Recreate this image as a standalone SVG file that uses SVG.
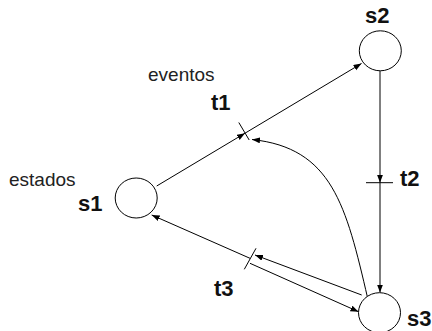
<svg xmlns="http://www.w3.org/2000/svg" width="432" height="331" viewBox="0 0 432 331">
<defs>
<marker id="arr" markerUnits="userSpaceOnUse" markerWidth="9" markerHeight="7" refX="8" refY="3" orient="auto">
<path d="M0,0 L8,3 L0,6 z" fill="#000"/>
</marker>
<style>
.place{fill:#fff;stroke:#000;stroke-width:1}
.edge{fill:none;stroke:#000;stroke-width:1}
.bar{stroke:#000;stroke-width:1}
.lbl{font-family:"Liberation Sans",Arial,sans-serif;font-size:19px;fill:#222}
.name{font-family:"Liberation Sans",Arial,sans-serif;font-size:22px;font-weight:bold;fill:#111}
</style>
</defs>
<rect width="432" height="331" fill="#fff"/>
<g id="connectors">
<line class="edge" x1="156.7" y1="186" x2="245" y2="133.2" marker-end="url(#arr)"/>
<line class="edge" x1="245" y1="133.2" x2="361.5" y2="63.5" marker-end="url(#arr)"/>
<line class="edge" x1="380" y1="70.7" x2="380" y2="182.7" marker-end="url(#arr)"/>
<line class="edge" x1="380" y1="182.7" x2="380" y2="292.5" marker-end="url(#arr)"/>
<path class="edge" d="M367.7,298.3 C346,205 332,148 252,139.5" marker-end="url(#arr)"/>
<line class="edge" x1="361.7" y1="295" x2="255" y2="255" marker-end="url(#arr)"/>
<line class="edge" x1="250" y1="258.3" x2="151.7" y2="215" marker-end="url(#arr)"/>
<line class="edge" x1="250" y1="263.3" x2="358.5" y2="311.7" marker-end="url(#arr)"/>
</g>
<g id="t1"><line class="bar" x1="238.8" y1="122.5" x2="249.2" y2="140"/><text class="name" x="211" y="109.5">t1</text></g>
<g id="t2"><line class="bar" x1="366" y1="182.7" x2="393" y2="182.7"/><text class="name" x="400" y="186">t2</text></g>
<g id="t3"><line class="bar" x1="244.3" y1="269.3" x2="256" y2="248.3"/><text class="name" x="214" y="296">t3</text></g>
<g id="s1"><ellipse class="place" cx="136.2" cy="198" rx="21" ry="20"/><text class="name" x="78" y="211">s1</text></g>
<g id="s2"><ellipse class="place" cx="380.3" cy="50.8" rx="21" ry="20"/><text class="name" x="365" y="23">s2</text></g>
<g id="s3"><ellipse class="place" cx="379.5" cy="312.7" rx="21" ry="20"/><text class="name" x="407" y="326">s3</text></g>
<g id="labels">
<text class="lbl" x="148" y="81">eventos</text>
<text class="lbl" x="9" y="185.5">estados</text>
</g>
</svg>
